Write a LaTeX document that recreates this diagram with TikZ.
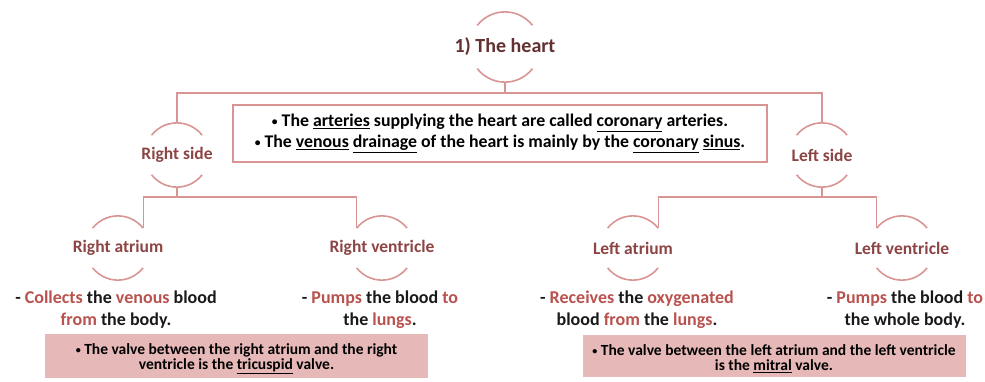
\documentclass[tikz,border=0pt]{standalone}
\usepackage{fontspec}
\setmainfont{Carlito}
\usepackage{xcolor}
\usetikzlibrary{positioning, calc}

\definecolor{arcpink}{RGB}{217,149,148}
\definecolor{headred}{RGB}{140,68,68}
\definecolor{wordred}{RGB}{185,82,78}
\definecolor{valvefill}{RGB}{230,185,184}

% red words inside the descriptions
\newcommand{\rw}[1]{\textcolor{wordred}{#1}}
% small bullet as in the slide
\newcommand{\dotb}{\raisebox{0.15ex}{\scalebox{0.65}{\textbullet}}}

\begin{document}
\begin{tikzpicture}[x=1pt, y=1pt,
    link/.style={draw=arcpink, line width=1.6pt},
    bubble/.style={circle, inner sep=0pt, minimum size=64pt, text=headred,
        font=\bfseries\fontsize{17.5}{19}\selectfont},
    desc/.style={align=center, text=black!90,
        font=\bfseries\fontsize{18}{22}\selectfont},
    valvebox/.style={fill=valvefill, minimum width=383pt, minimum height=42pt,
        align=center, font=\bfseries\fontsize{15.5}{15}\selectfont},
    notebox/.style={draw=arcpink, line width=1.2pt, minimum width=534pt,
        minimum height=57pt, align=center,
        font=\bfseries\fontsize{17.8}{21}\selectfont}]

    \useasboundingbox (0,0) rectangle (985,-381);

    % Title and the two sides
    \node[bubble, minimum size=70pt, text=headred!70!black,
          font=\bfseries\fontsize{20}{22}\selectfont] (heart) at (505,-47) {\makebox[0pt]{1) The heart}};
    \node[bubble] (rside) at (177,-155) {\makebox[0pt]{Right side}};
    \node[bubble] (lside) at (822,-155) {\makebox[0pt]{Left side}};

    % Chambers
    \node[bubble] (ratrium) at (118,-248) {\makebox[0pt]{Right atrium}};
    \node[bubble] (rventricle) at (382,-248) {\makebox[0pt]{Right ventricle}};
    \node[bubble] (latrium) at (633,-248) {\makebox[0pt]{Left atrium}};
    \node[bubble] (lventricle) at (902,-248) {\makebox[0pt]{Left ventricle}};

    % Arcs above and below each label
    \foreach \n/\r in {heart/35, rside/32, lside/32, ratrium/32, rventricle/32, latrium/32, lventricle/32}
        \draw[link] (\n.142) arc[start angle=142, end angle=38, radius=\r]
                    (\n.218) arc[start angle=218, end angle=322, radius=\r];

    % Central note between the sides
    \node[notebox] (note) at (500,-133.5) {%
        \dotb\ The \underline{arteries} supplying the heart are called \underline{coronary} arteries.\\
        \dotb\ The \underline{venous} \underline{drainage} of the heart is mainly by the \underline{coronary} \underline{sinus}.};

    % Connectors of the tree
    \draw[link] (heart.south) -- ++(0,-11) coordinate (topbar);
    \draw[link] (rside.north) |- (topbar) -| (lside.north);
    \draw[link] (rside.south) -- ++(0,-10) coordinate (rbar);
    \draw[link] (ratrium.38) |- (rbar) -| (rventricle.142);
    \draw[link] (lside.south) -- ++(0,-10) coordinate (lbar);
    \draw[link] (latrium.38) |- (lbar) -| (lventricle.142);

    % Descriptions under the chambers
    \node[desc] (ratriumtxt) at (116,-310) {- \rw{Collects} the \rw{venous} blood\\ \rw{from} the body.};
    \node[desc] (rventricletxt) at (380,-310) {- \rw{Pumps} the blood \rw{to}\\ the \rw{lungs}.};
    \node[desc] (latriumtxt) at (637,-310) {- \rw{Receives} the \rw{oxygenated}\\ blood \rw{from} the \rw{lungs}.};
    \node[desc] (lventricletxt) at (905,-310) {- \rw{Pumps} the blood \rw{to}\\ the whole body.};

    % Valve notes
    \node[valvebox] (rvalve) at (236.5,-356) {\rule{0pt}{17pt}\dotb\ The valve between the right atrium and the right\\ ventricle is the \underline{tricuspid} valve.};
    \node[valvebox] (lvalve) at (774,-356) {\rule{0pt}{17pt}\dotb\ The valve between the left atrium and the left ventricle\\ is the \underline{mitral} valve.};

\end{tikzpicture}
\end{document}
